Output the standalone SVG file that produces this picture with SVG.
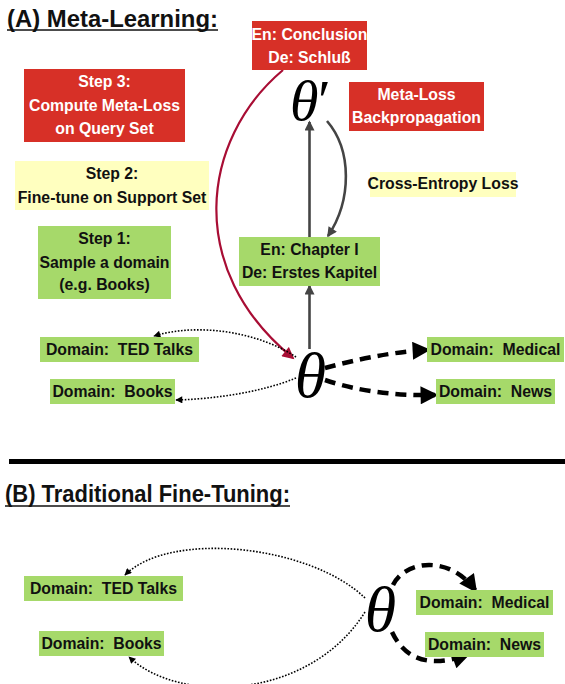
<svg xmlns="http://www.w3.org/2000/svg" width="565" height="684" viewBox="0 0 565 684">
<style>
.t{font-family:"Liberation Sans",Arial,sans-serif;font-weight:bold;font-size:15.8px;text-anchor:middle}
.tw{fill:#ffffff}
.tk{fill:#111111}
.red{fill:#d73027}
.grn{fill:#a6d96a}
.yel{fill:#ffffbf}
.title{font-family:"Liberation Sans",Arial,sans-serif;font-weight:bold;font-size:23px;fill:#111}
.th{font-family:"Liberation Serif","Times New Roman",serif;font-style:italic;fill:#000}
.dot{fill:none;stroke:#000;stroke-width:1.6;stroke-dasharray:1.6 1.6}
.dash{fill:none;stroke:#000;stroke-width:4.5;stroke-dasharray:11 7}
.gray{fill:none;stroke:#444;stroke-width:2.6}
.crim{fill:none;stroke:#a80d34;stroke-width:2.2}
</style>
<defs>
<marker id="mGray" viewBox="0 0 10 10" refX="8.5" refY="5" markerWidth="11" markerHeight="10" markerUnits="userSpaceOnUse" orient="auto"><path d="M0,0 L10,5 L0,10 z" fill="#444"/></marker>
<marker id="mRed" viewBox="0 0 10 10" refX="8.5" refY="5" markerWidth="14" markerHeight="12" markerUnits="userSpaceOnUse" orient="auto"><path d="M0,0 L10,5 L0,10 z" fill="#a80d34"/></marker>
<marker id="mDot" viewBox="0 0 10 10" refX="9" refY="5" markerWidth="8" markerHeight="7" markerUnits="userSpaceOnUse" orient="auto"><path d="M0,0 L10,5 L0,10 z" fill="#000"/></marker>
<marker id="mBig" viewBox="0 0 10 10" refX="8" refY="5" markerWidth="20" markerHeight="18" markerUnits="userSpaceOnUse" orient="auto"><path d="M0,0 L10,5 L0,10 z" fill="#000"/></marker>
</defs>

<!-- Section A title -->
<g id="titleA">
<text class="title" x="7" y="26.5" textLength="211" lengthAdjust="spacingAndGlyphs">(A) Meta-Learning:</text>
<line x1="7" y1="30" x2="218" y2="30" stroke="#111" stroke-width="1.3"/>
</g>

<!-- connectors A -->
<g id="connectorsA">
<path class="crim" d="M283,70 C200,140 185,270 293,358" marker-end="url(#mRed)"/>
<line class="gray" x1="309.5" y1="349" x2="309.5" y2="286" marker-end="url(#mGray)"/>
<line class="gray" x1="309.5" y1="237" x2="309.5" y2="122" marker-end="url(#mGray)"/>
<path class="gray" d="M327,121 C352,150 352,200 328,236" marker-end="url(#mGray)"/>
<path class="dot" d="M296,357 C260,333 200,322 154,336" marker-end="url(#mDot)"/>
<path class="dot" d="M296,378 C262,392 215,399 176,400" marker-end="url(#mDot)"/>
<path class="dash" d="M325,368 C355,360 390,352 427,350" marker-end="url(#mBig)"/>
<path class="dash" d="M325,380 C355,390 390,396 435,395" marker-end="url(#mBig)"/>
</g>

<g id="conclusion"><rect class="red" x="252" y="21" width="115" height="49"/>
<text class="t tw" x="309.5" y="39.5">En: Conclusion</text><text class="t tw" x="309.5" y="62.5">De: Schluß</text></g>

<g id="step3"><rect class="red" x="24" y="69" width="161" height="73"/>
<text class="t tw" x="104.5" y="87">Step 3:</text><text class="t tw" x="104.5" y="111">Compute Meta-Loss</text><text class="t tw" x="104.5" y="134">on Query Set</text></g>

<g id="thetaPrime"><text class="th" x="290" y="120" font-size="58" letter-spacing="-4">θ′</text></g>

<g id="metaloss"><rect class="red" x="349" y="82" width="135" height="49"/>
<text class="t tw" x="416.5" y="100">Meta-Loss</text><text class="t tw" x="416.5" y="123">Backpropagation</text></g>

<g id="step2"><rect class="yel" x="15" y="161" width="194" height="49"/>
<text class="t tk" x="112" y="178.5">Step 2:</text><text class="t tk" x="112" y="202.5">Fine-tune on Support Set</text></g>

<g id="crossentropy"><rect class="yel" x="370" y="172" width="146" height="25"/>
<text class="t tk" x="443" y="189">Cross-Entropy Loss</text></g>

<g id="step1"><rect class="grn" x="38" y="226" width="133" height="73"/>
<text class="t tk" x="104.5" y="244">Step 1:</text><text class="t tk" x="104.5" y="268">Sample a domain</text><text class="t tk" x="104.5" y="290">(e.g. Books)</text></g>

<g id="chapter"><rect class="grn" x="239" y="237" width="141" height="49"/>
<text class="t tk" x="309.5" y="254.5">En: Chapter I</text><text class="t tk" x="309.5" y="278">De: Erstes Kapitel</text></g>

<g id="thetaA"><text class="th" x="310.5" y="397" font-size="64" text-anchor="middle">θ</text></g>

<g id="tedA"><rect class="grn" x="40" y="337" width="159" height="25"/>
<text class="t tk" x="119.5" y="354.5" xml:space="preserve">Domain:  TED Talks</text></g>
<g id="booksA"><rect class="grn" x="50" y="379" width="125" height="25"/>
<text class="t tk" x="112.5" y="396.5" xml:space="preserve">Domain:  Books</text></g>
<g id="medicalA"><rect class="grn" x="427" y="337" width="137" height="25"/>
<text class="t tk" x="495.5" y="354.5" xml:space="preserve">Domain:  Medical</text></g>
<g id="newsA"><rect class="grn" x="436" y="379" width="119" height="25"/>
<text class="t tk" x="495.5" y="396.5" xml:space="preserve">Domain:  News</text></g>

<!-- separator -->
<g id="separator"><rect x="9" y="459" width="556" height="5" fill="#000"/></g>

<!-- Section B -->
<g id="titleB">
<text class="title" x="5" y="502" textLength="285" lengthAdjust="spacingAndGlyphs">(B) Traditional Fine-Tuning:</text>
<line x1="5" y1="506" x2="290" y2="506" stroke="#111" stroke-width="1.3"/>
</g>

<g id="connectorsB">
<path class="dot" d="M365,598 C310,545 170,530 125,575" marker-end="url(#mDot)"/>
<path class="dot" d="M365,612 C310,700 180,705 129,657" marker-end="url(#mDot)"/>
<path class="dash" d="M393,585 C405,560 450,555 475,590" marker-end="url(#mBig)"/>
<path class="dash" d="M392,632 C405,660 430,668 467,655" marker-end="url(#mBig)"/>
</g>

<g id="thetaB"><text class="th" x="380.5" y="631" font-size="64" text-anchor="middle">θ</text></g>

<g id="tedB"><rect class="grn" x="24" y="576" width="159" height="25"/>
<text class="t tk" x="103.5" y="593.5" xml:space="preserve">Domain:  TED Talks</text></g>
<g id="booksB"><rect class="grn" x="39" y="631" width="125" height="25"/>
<text class="t tk" x="101.5" y="648.5" xml:space="preserve">Domain:  Books</text></g>
<g id="medicalB"><rect class="grn" x="416" y="590" width="137" height="25"/>
<text class="t tk" x="484.5" y="607.5" xml:space="preserve">Domain:  Medical</text></g>
<g id="newsB"><rect class="grn" x="425" y="632" width="119" height="25"/>
<text class="t tk" x="484.5" y="649.5" xml:space="preserve">Domain:  News</text></g>
</svg>
